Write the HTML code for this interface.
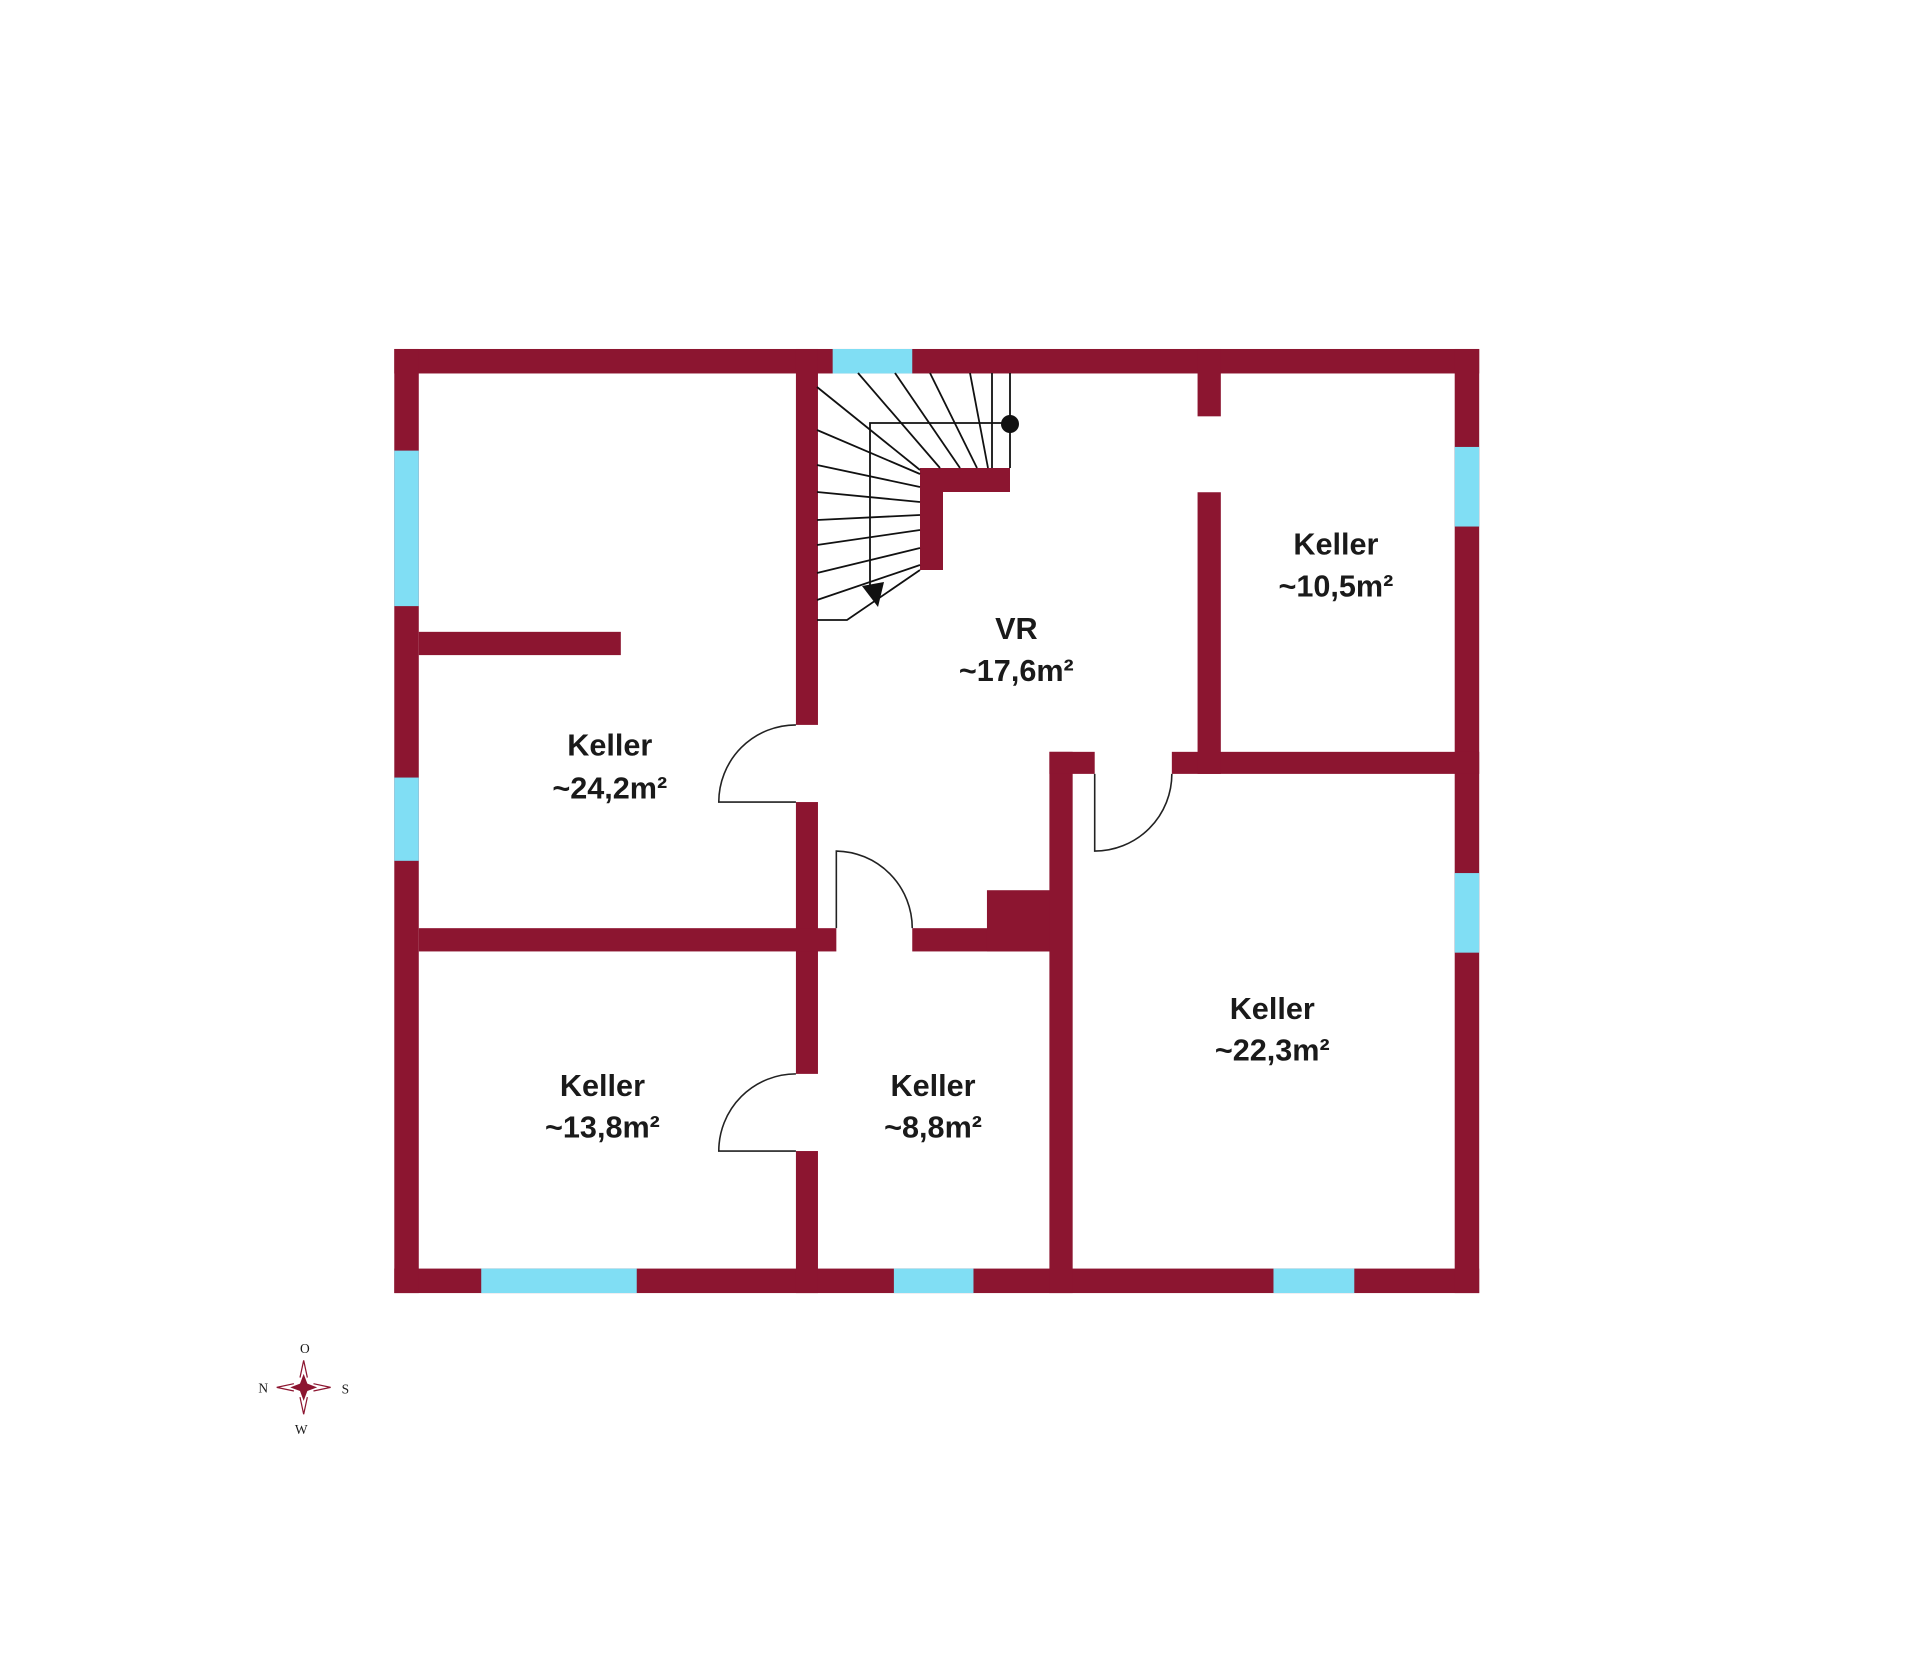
<!DOCTYPE html>
<html><head><meta charset="utf-8"><style>
html,body{margin:0;padding:0;background:#fff;}
svg{display:block;}
text{font-family:"Liberation Sans",sans-serif;font-weight:bold;fill:#1a1a1a;}
</style></head><body>
<svg width="1920" height="1674" viewBox="0 0 1920 1674" xmlns="http://www.w3.org/2000/svg">
<rect width="1920" height="1674" fill="#fff"/>
<g transform="scale(1.2245)">
 <g fill="#8c1530">
  <!-- outer walls -->
  <rect x="322" y="285" width="886" height="20"/>
  <rect x="322" y="1036" width="886" height="20"/>
  <rect x="322" y="285" width="20" height="771"/>
  <rect x="1188" y="285" width="20" height="771"/>
  <!-- wall A -->
  <rect x="650" y="285" width="18" height="307"/>
  <rect x="650" y="655" width="18" height="222"/>
  <rect x="650" y="940" width="18" height="116"/>
  <!-- partial -->
  <rect x="342" y="516" width="165" height="19"/>
  <!-- wall B -->
  <rect x="342" y="758" width="341" height="19"/>
  <rect x="745" y="758" width="113" height="19"/>
  <rect x="806" y="727" width="52" height="50"/>
  <!-- wall C -->
  <rect x="857" y="614" width="19" height="442"/>
  <rect x="857" y="614" width="37" height="18"/>
  <!-- wall D -->
  <rect x="957" y="614" width="251" height="18"/>
  <!-- wall E -->
  <rect x="978" y="285" width="19" height="55"/>
  <rect x="978" y="402" width="19" height="230"/>
 </g>
 <g fill="#80def4">
  <rect x="680" y="285" width="65" height="20"/>
  <rect x="322" y="368" width="20" height="127"/>
  <rect x="322" y="635" width="20" height="68"/>
  <rect x="1188" y="365" width="20" height="65"/>
  <rect x="1188" y="713" width="20" height="65"/>
  <rect x="393" y="1036" width="127" height="20"/>
  <rect x="730" y="1036" width="65" height="20"/>
  <rect x="1040" y="1036" width="66" height="20"/>
 </g>
 <g fill="none" stroke="#222" stroke-width="1.3">
  <path d="M650,592 A63,63 0 0 0 587,655 L650,655"/>
  <path d="M650,877 A63,63 0 0 0 587,940 L650,940"/>
  <path d="M683,758 L683,695 A63,63 0 0 1 745,758"/>
  <path d="M894,632 L894,695 A63,63 0 0 0 957,632"/>
 </g>
 <g font-size="25" text-anchor="middle">
  <text x="498" y="617">Keller</text><text x="498" y="652">~24,2m²</text>
  <text x="830" y="522">VR</text><text x="830" y="556">~17,6m²</text>
  <text x="1091" y="453">Keller</text><text x="1091" y="487">~10,5m²</text>
  <text x="1039" y="832">Keller</text><text x="1039" y="866">~22,3m²</text>
  <text x="492" y="895">Keller</text><text x="492" y="929">~13,8m²</text>
  <text x="762" y="895">Keller</text><text x="762" y="929">~8,8m²</text>
 </g>
 <!-- compass -->
 <g transform="translate(248,1133)" fill="#8c1530" stroke="#8c1530">
  <path d="M0,-11 L3,-3 L11,0 L3,3 L0,11 L-3,3 L-11,0 L-3,-3 Z" stroke="none"/>
  <g fill="none" stroke-width="1">
   <path d="M-3,-8 L0,-22 L3,-8"/><path d="M-3,8 L0,22 L3,8"/>
   <path d="M-8,-3 L-22,0 L-8,3"/><path d="M8,-3 L22,0 L8,3"/>
  </g>
  <g stroke="none" font-family="Liberation Serif,serif" font-size="11" text-anchor="middle" style="font-weight:normal">
   <text x="1" y="-28" fill="#8c1530" style="font-family:'Liberation Serif',serif;font-weight:normal">O</text>
   <text x="-33" y="4" fill="#8c1530" style="font-family:'Liberation Serif',serif;font-weight:normal">N</text>
   <text x="34" y="5" fill="#8c1530" style="font-family:'Liberation Serif',serif;font-weight:normal">S</text>
   <text x="-2" y="38" fill="#8c1530" style="font-family:'Liberation Serif',serif;font-weight:normal">W</text>
  </g>
 </g>
</g>
<!-- stair in actual coords -->
<g fill="#8c1530">
 <rect x="920" y="468" width="90" height="24"/>
 <rect x="920" y="468" width="23" height="102"/>
</g>
<g stroke="#111" stroke-width="1.8" fill="none">
 <line x1="858" y1="373" x2="940" y2="468"/>
 <line x1="895" y1="373" x2="960" y2="468"/>
 <line x1="930" y1="373" x2="977" y2="468"/>
 <line x1="970" y1="373" x2="988" y2="468"/>
 <line x1="992" y1="373" x2="992" y2="468"/>
 <line x1="1010" y1="373" x2="1010" y2="468"/>
 <line x1="817" y1="387" x2="920" y2="470"/>
 <line x1="817" y1="430" x2="920" y2="474"/>
 <line x1="817" y1="465" x2="920" y2="487"/>
 <line x1="817" y1="492" x2="920" y2="502"/>
 <line x1="817" y1="520" x2="920" y2="515"/>
 <line x1="817" y1="545" x2="920" y2="530"/>
 <line x1="817" y1="573" x2="920" y2="548"/>
 <line x1="817" y1="600" x2="920" y2="565"/>
 <path d="M817,620 L847,620 L920,570"/>
 <path d="M1010,423 L870,423 L870,595"/>
</g>
<path d="M862,586 L884,582 L878,607 Z" fill="#111"/>
<circle cx="1010" cy="424" r="9" fill="#111"/>
</svg>
</body></html>
